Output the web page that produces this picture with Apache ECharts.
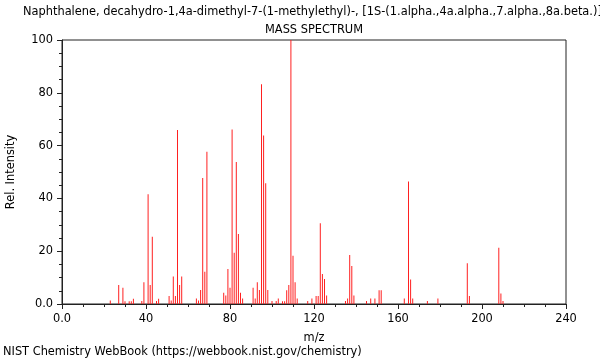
<!DOCTYPE html>
<html>
<head>
<meta charset="utf-8">
<script src="https://cdn.jsdelivr.net/npm/echarts@6/dist/echarts.min.js"></script>
<style>html,body{margin:0;padding:0;background:#fff}#c{width:600px;height:360px}</style>
</head>
<body>
<div id="c"></div>
<script>
const mz = [23,27,29,30,32,33,34,38,39,41,42,43,45,46,
  51,52,53,54,55,56,57,64,65,66,67,68,69,
  77,78,79,80,81,82,83,84,85,86,
  91,92,93,94,95,96,97,98,100,102,103,105,106,
  107,108,109,110,111,112,117,119,121,122,123,124,125,126,
  135,136,137,138,139,145,147,149,151,152,
  163,165,166,167,174,179,193,194,208,209,210];
const intensity = [1.3,7.2,6.2,1,1,1,2,1.1,8.2,41.6,7.2,25.5,1.1,2,
  3,1.3,10.4,3,65.9,7.2,10.4,2.1,1.3,5.3,47.7,12.2,57.7,
  4.3,3.2,13.3,6.2,66.1,19.4,53.8,26.5,4.3,2.1,
  6.2,2.1,8.2,5.3,83.2,63.8,45.7,5.3,1.1,1.1,2.1,1,1,
  5.2,7.2,100,18.3,8.2,2.1,1.1,2.1,3,3,30.6,11.4,9.5,3.2,
  1.1,2.1,18.6,14.4,3.2,1.1,2.1,2.1,5.2,5.2,
  2.1,46.4,9.3,2.1,1.1,2.1,15.4,3,21.3,4,1.1];
const xTicks = {min: 0, max: 240, step: 40};
const yTicks = {min: 0, max: 100, step: 20};
const titleText = 'Naphthalene, decahydro-1,4a-dimethyl-7-(1-methylethyl)-, [1S-(1.alpha.,4a.alpha.,7.alpha.,8a.beta.)]-';
const subTitle = 'MASS SPECTRUM';
const footer = 'NIST Chemistry WebBook (https://webbook.nist.gov/chemistry)';

const font = 'DejaVu Sans';
const fs = 11.4;
const chart = echarts.init(document.getElementById('c'), null, {renderer: 'canvas'});
const fmt = v => (v === 0 ? '0.0' : String(v));
chart.setOption({
  animation: false,
  backgroundColor: '#fff',
  textStyle: {fontFamily: font},
  grid: {left: 62, right: 34, top: 40, bottom: 56, containLabel: false, outerBoundsMode: 'none',
    show: true, borderColor: '#222', borderWidth: 1, backgroundColor: 'transparent'},
  graphic: [
    {type: 'text', left: 23, top: 7, style: {text: titleText, font: fs + 'px "DejaVu Sans"', fill: '#000'}},
    {type: 'text', x: 314, y: 30, style: {text: subTitle, font: fs + 'px "DejaVu Sans"', fill: '#000', align: 'center', verticalAlign: 'middle'}},
    {type: 'text', left: 3, top: 347, style: {text: footer, font: fs + 'px "DejaVu Sans"', fill: '#000'}}
  ],
  xAxis: {
    type: 'value', min: xTicks.min, max: xTicks.max, interval: xTicks.step,
    name: 'm/z', nameLocation: 'middle', nameGap: 29,
    nameTextStyle: {fontSize: fs, color: '#000', fontFamily: font},
    axisLine: {show: true, lineStyle: {color: '#222', width: 1}},
    axisTick: {show: true, length: 5, lineStyle: {color: '#222'}},
    minorTick: {show: true, splitNumber: 4, length: 3, lineStyle: {color: '#222'}},
    splitLine: {show: false},
    axisLabel: {fontSize: fs, color: '#000', margin: 10, formatter: fmt, fontFamily: font}
  },
  yAxis: {
    type: 'value', min: yTicks.min, max: yTicks.max, interval: yTicks.step,
    name: 'Rel. Intensity', nameLocation: 'middle', nameGap: 45, nameRotate: 90,
    nameTextStyle: {fontSize: fs, color: '#000', fontFamily: font},
    axisLine: {show: true, lineStyle: {color: '#222', width: 1}},
    axisTick: {show: true, length: 5, lineStyle: {color: '#222'}},
    minorTick: {show: true, splitNumber: 4, length: 3, lineStyle: {color: '#222'}},
    splitLine: {show: false},
    axisLabel: {fontSize: fs, color: '#000', margin: 9, formatter: fmt, fontFamily: font}
  },
  series: [{
    type: 'bar',
    barWidth: 1,
    itemStyle: {color: '#ff2020'},
    data: mz.map((m, i) => [m, intensity[i]])
  }]
});
</script>
</body>
</html>
